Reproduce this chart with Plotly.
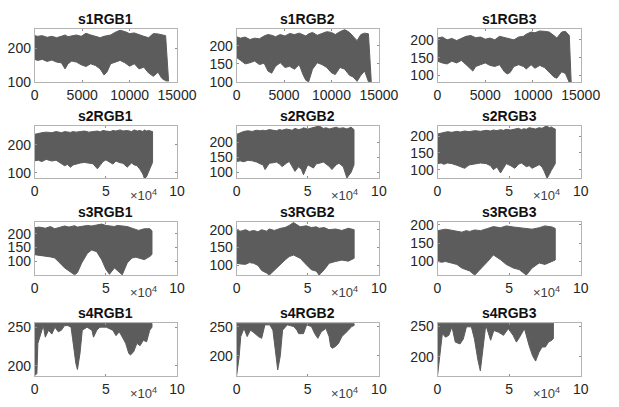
import plotly.graph_objects as go

# ---------------- data (envelopes of each dense signal) ----------------
titles = ["s1RGB1", "s1RGB2", "s1RGB3",
          "s2RGB1", "s2RGB2", "s2RGB3",
          "s3RGB1", "s3RGB2", "s3RGB3",
          "s4RGB1", "s4RGB2", "s4RGB3"]

s1RGB1_x = [0, 300, 800, 1300, 1800, 2300, 2800, 3200, 3500, 3900, 4400, 4900, 5400, 5900, 6400, 6900, 7300, 7600,
            8000, 8500, 9000, 9500, 10000, 10500, 11000, 11500, 12000, 12500, 13000, 13400, 13800, 14100]
s1RGB1_hi = [238, 236, 238, 233, 236, 232, 236, 240, 235, 238, 240, 236, 245, 240, 236, 232, 236, 238, 240, 248,
             254, 250, 244, 246, 240, 236, 232, 244, 243, 240, 238, 108]
s1RGB1_lo = [168, 165, 168, 162, 166, 160, 158, 140, 155, 163, 160, 152, 147, 155, 150, 140, 122, 130, 155, 160,
             165, 158, 148, 155, 140, 145, 128, 118, 130, 112, 105, 104]

s1RGB2_x = [0, 400, 900, 1400, 1900, 2400, 2900, 3300, 3700, 4100, 4600, 5100, 5600, 6100, 6600, 7000, 7300, 7600,
            8000, 8500, 9000, 9500, 10000, 10400, 10900, 11400, 11900, 12300, 12700, 13100, 13500, 13900, 14200]
s1RGB2_hi = [226, 222, 225, 218, 222, 220, 228, 232, 230, 226, 232, 228, 235, 232, 236, 232, 228, 234, 238, 230,
             236, 240, 238, 232, 240, 246, 238, 225, 215, 232, 236, 234, 120]
s1RGB2_lo = [168, 160, 150, 153, 158, 148, 152, 130, 124, 143, 153, 140, 143, 135, 148, 120, 104, 100, 135, 153,
             148, 140, 125, 120, 140, 135, 118, 113, 101, 118, 130, 100, 100]

s1RGB3_x = [0, 500, 1000, 1500, 2000, 2500, 3000, 3500, 3700, 4000, 4500, 5000, 5500, 6000, 6500, 7000, 7300, 7600,
            8000, 8500, 9000, 9300, 9800, 10200, 10700, 11200, 11700, 12200, 12500, 13000, 13400, 13800, 14000]
s1RGB3_hi = [205, 208, 200, 204, 198, 205, 210, 212, 210, 206, 208, 202, 205, 200, 210, 206, 204, 203, 200, 208,
             210, 216, 222, 220, 225, 224, 222, 212, 205, 222, 224, 212, 100]
s1RGB3_lo = [140, 135, 132, 140, 135, 142, 130, 118, 112, 125, 130, 135, 128, 125, 130, 110, 104, 108, 125, 130,
             125, 118, 130, 120, 128, 122, 110, 95, 92, 110, 105, 80, 80]

s2RGB1_x = [0, 2500, 5000, 8000, 12000, 15000, 17000, 19000, 21000, 23000, 25000, 27000, 29000, 32000, 35000, 38000,
            41000, 44000, 46000, 48000, 50000, 53000, 55000, 57000, 60000, 62000, 65000, 68000, 70000, 72000, 74000,
            76000, 77000, 78500, 80000, 81500, 82800]
s2RGB1_hi = [238, 242, 244, 246, 244, 248, 246, 244, 248, 246, 245, 248, 246, 248, 250, 246, 248, 250, 247, 252,
             250, 248, 252, 250, 254, 250, 252, 248, 254, 250, 252, 248, 254, 250, 252, 250, 248]
s2RGB1_lo = [143, 145, 140, 148, 142, 145, 138, 132, 125, 130, 120, 128, 131, 135, 137, 134, 132, 114, 125, 140,
             146, 138, 131, 142, 136, 134, 120, 135, 128, 125, 112, 95, 80, 85, 105, 120, 137]

s2RGB2_x = [0, 2500, 5000, 8000, 11000, 14000, 16500, 18500, 20000, 23000, 26000, 28000, 30000, 32000, 35000, 37000,
            39000, 41000, 43500, 45500, 47000, 50000, 52000, 54000, 56000, 58000, 61000, 63000, 65000, 67000, 70000,
            72000, 75000, 77500, 79000, 80500, 82500]
s2RGB2_hi = [226, 232, 236, 238, 236, 240, 238, 240, 238, 242, 240, 238, 242, 240, 244, 242, 240, 246, 242, 244,
             248, 244, 246, 248, 250, 254, 246, 248, 244, 246, 250, 246, 248, 244, 246, 250, 242]
s2RGB2_lo = [136, 138, 135, 140, 138, 134, 128, 125, 109, 130, 132, 134, 128, 119, 130, 136, 120, 103, 118, 110,
             92, 125, 120, 114, 128, 130, 134, 128, 120, 109, 125, 130, 118, 81, 90, 100, 125]

s2RGB3_x = [0, 2500, 4500, 7000, 10000, 13500, 16000, 19000, 22000, 26000, 30000, 34000, 37000, 39000, 41500, 44000,
            46000, 48000, 51000, 54000, 56500, 58500, 60500, 62000, 64000, 66000, 68500, 71000, 73000, 74500, 76500,
            78000, 79500, 81000, 82200]
s2RGB3_hi = [207, 210, 212, 214, 212, 215, 213, 216, 214, 217, 215, 218, 216, 219, 217, 220, 218, 221, 219, 222,
             224, 220, 223, 221, 226, 224, 222, 226, 224, 228, 231, 226, 228, 224, 222]
s2RGB3_lo = [118, 120, 116, 120, 118, 113, 110, 104, 114, 118, 120, 118, 112, 100, 108, 90, 104, 118, 112, 104,
             116, 120, 114, 109, 112, 104, 110, 115, 108, 95, 74, 85, 98, 110, 118]

s3RGB1_x = [0, 3000, 7500, 11000, 14000, 17600, 21000, 24000, 26500, 28000, 30000, 33000, 37000, 40000, 43500, 47000,
            50000, 52500, 56000, 58000, 61500, 65000, 68400, 71000, 73000, 77000, 81000, 82400]
s3RGB1_hi = [222, 224, 220, 226, 218, 222, 228, 224, 226, 229, 224, 226, 230, 228, 232, 235, 230, 228, 226, 230,
             228, 226, 220, 216, 212, 218, 218, 210]
s3RGB1_lo = [124, 122, 118, 116, 112, 94, 76, 65, 57, 51, 59, 94, 129, 141, 135, 106, 71, 53, 76, 65,
             51, 94, 112, 115, 112, 106, 118, 125]

s3RGB2_x = [0, 3000, 6300, 9000, 12000, 15000, 17600, 21000, 23000, 26500, 31000, 34000, 37000, 40000, 44700, 49000,
            52500, 56000, 58000, 61600, 65000, 69500, 74000, 78500, 82600]
s3RGB2_hi = [198, 196, 200, 195, 198, 194, 200, 196, 202, 198, 204, 206, 212, 220, 208, 211, 206, 208, 204, 206,
             200, 202, 198, 204, 200]
s3RGB2_lo = [106, 104, 103, 108, 106, 100, 86, 79, 73, 84, 103, 115, 125, 129, 120, 102, 88, 84, 73, 88,
             106, 111, 115, 112, 120]

s3RGB3_x = [0, 3000, 5600, 10000, 13500, 17000, 20000, 22500, 26000, 30000, 35000, 39000, 44000, 48000, 53000, 57000,
            62000, 66000, 71000, 75000, 80000, 82200]
s3RGB3_hi = [184, 186, 188, 185, 182, 180, 184, 182, 186, 184, 190, 195, 192, 197, 194, 192, 190, 188, 192, 197,
             194, 190]
s3RGB3_lo = [100, 98, 100, 96, 92, 82, 78, 74, 63, 78, 100, 118, 105, 92, 82, 78, 63, 82, 96, 92, 100, 104]

s4RGB1_x = [0, 1500, 2200, 4000, 6000, 7400, 9700, 12000, 14200, 16500, 18700, 21000, 23300, 25500, 26600, 28900,
            30000, 31800, 33400, 36800, 40200, 41300, 43600, 45800, 50300, 54900, 57100, 59400, 61600, 63900, 66100,
            67300, 69500, 71800, 74000, 76300, 78600, 80800, 82400]
s4RGB1_hi = [255] * 39
s4RGB1_lo = [187, 190, 229, 241, 252, 237, 246, 241, 250, 244, 246, 252, 252, 250, 235, 203, 195, 216, 246, 250,
             246, 237, 246, 250, 250, 246, 239, 244, 237, 229, 216, 214, 218, 229, 226, 233, 231, 246, 250]

s4RGB2_x = [0, 1800, 2900, 5200, 7400, 9700, 12000, 15300, 17600, 19900, 23300, 25500, 27100, 28900, 30700, 32300,
            35700, 40200, 42400, 43600, 47000, 49200, 52600, 54900, 57100, 59400, 62800, 65000, 66100, 67300, 69500,
            71800, 74000, 78600, 80800, 82600]
s4RGB2_hi = [255] * 36
s4RGB2_lo = [166, 199, 233, 247, 233, 244, 240, 233, 230, 253, 253, 244, 216, 176, 200, 244, 253, 250, 244, 238,
             238, 253, 250, 238, 230, 241, 247, 233, 216, 213, 216, 222, 233, 244, 250, 252]

s4RGB3_x = [0, 1800, 3400, 5600, 7900, 10100, 12400, 15700, 18000, 20200, 23600, 25800, 28100, 29900, 31500, 33700,
            37100, 39300, 42700, 46100, 49400, 52800, 55100, 57300, 60700, 64000, 66300, 68500, 70800, 73000, 75300,
            77500, 79800, 80900]
s4RGB3_hi = [255] * 34
s4RGB3_lo = [169, 202, 238, 232, 235, 249, 224, 221, 229, 249, 249, 229, 196, 177, 207, 252, 227, 243, 240, 235,
             246, 235, 224, 232, 246, 218, 202, 193, 207, 216, 216, 224, 227, 230]

xs = [s1RGB1_x, s1RGB2_x, s1RGB3_x, s2RGB1_x, s2RGB2_x, s2RGB3_x,
      s3RGB1_x, s3RGB2_x, s3RGB3_x, s4RGB1_x, s4RGB2_x, s4RGB3_x]
his = [s1RGB1_hi, s1RGB2_hi, s1RGB3_hi, s2RGB1_hi, s2RGB2_hi, s2RGB3_hi,
       s3RGB1_hi, s3RGB2_hi, s3RGB3_hi, s4RGB1_hi, s4RGB2_hi, s4RGB3_hi]
los = [s1RGB1_lo, s1RGB2_lo, s1RGB3_lo, s2RGB1_lo, s2RGB2_lo, s2RGB3_lo,
       s3RGB1_lo, s3RGB2_lo, s3RGB3_lo, s4RGB1_lo, s4RGB2_lo, s4RGB3_lo]

y_ranges = [[100, 257], [98, 247], [80, 230],
            [80, 268], [80, 254], [74, 231],
            [50, 243], [73, 222], [63, 208],
            [187, 256], [166, 257], [169, 256]]
y_ticks = [[100, 200], [100, 150, 200], [100, 150, 200],
           [100, 200], [100, 150, 200], [100, 150, 200],
           [100, 150, 200], [100, 150, 200], [100, 150, 200],
           [200, 250], [200, 250], [200, 250]]

row1_xticks = [0, 5000, 10000, 15000]
row1_xtext = ["0", "5000", "10000", "15000"]
other_xticks = [0, 50000, 100000]
other_xtext = ["0", "5", "10"]

# ---------------- layout geometry ----------------
W, H = 619, 407
col_px = [(32, 180), (242, 390), (451, 600)]
row_px = [(25, 80), (125, 179), (224, 279), (328, 383)]

FONT = "Liberation Sans, Arial, sans-serif"
FILL = "#5c5c5c"

fig = go.Figure()
layout = dict(width=W, height=H, margin=dict(l=0, r=0, t=0, b=0),
              paper_bgcolor="white", plot_bgcolor="white", showlegend=False,
              font=dict(family=FONT, size=14, color="#262626"))
annotations = []

for i in range(12):
    r, c = divmod(i, 3)
    n = i + 1
    xa = "xaxis" if n == 1 else f"xaxis{n}"
    ya = "yaxis" if n == 1 else f"yaxis{n}"
    xr = "x" if n == 1 else f"x{n}"
    yr = "y" if n == 1 else f"y{n}"
    x = xs[i]
    px = list(x) + list(reversed(x))
    py = list(his[i]) + list(reversed(los[i]))
    fig.add_trace(go.Scatter(x=px, y=py, mode="lines", fill="toself", fillcolor=FILL,
                             line=dict(color=FILL, width=1), xaxis=xr, yaxis=yr, hoverinfo="skip"))
    x0, x1 = col_px[c]
    y0, y1 = row_px[r]
    common = dict(showgrid=False, zeroline=False, showline=True, linecolor="#b4b4b4", linewidth=1,
                  mirror="ticks", ticks="inside", ticklen=2, tickcolor="#909090",
                  tickfont=dict(family=FONT, size=14, color="#262626"))
    if r == 0:
        layout[xa] = dict(domain=[x0 / W, x1 / W], range=[0, 15000], tickvals=row1_xticks,
                          ticktext=row1_xtext, anchor=yr, **common)
    else:
        layout[xa] = dict(domain=[x0 / W, x1 / W], range=[0, 100000], tickvals=other_xticks,
                          ticktext=other_xtext, anchor=yr, **common)
        annotations.append(dict(text="×10<sup>4</sup>", xref=f"{xr} domain", yref=f"{yr} domain",
                                x=0.87, y=0, xanchor="right", yanchor="top", yshift=-7,
                                showarrow=False, font=dict(family=FONT, size=13, color="#404040")))
    layout[ya] = dict(domain=[1 - y1 / H, 1 - y0 / H], range=y_ranges[i], tickvals=y_ticks[i],
                      anchor=xr, **common)
    annotations.append(dict(text=f"<b>{titles[i]}</b>", xref=f"{xr} domain", yref=f"{yr} domain",
                            x=0.5, y=1, xanchor="center", yanchor="bottom", yshift=0,
                            showarrow=False, font=dict(family=FONT, size=14, color="#111111")))

layout["annotations"] = annotations
fig.update_layout(**layout)
fig.write_html("out.html")
